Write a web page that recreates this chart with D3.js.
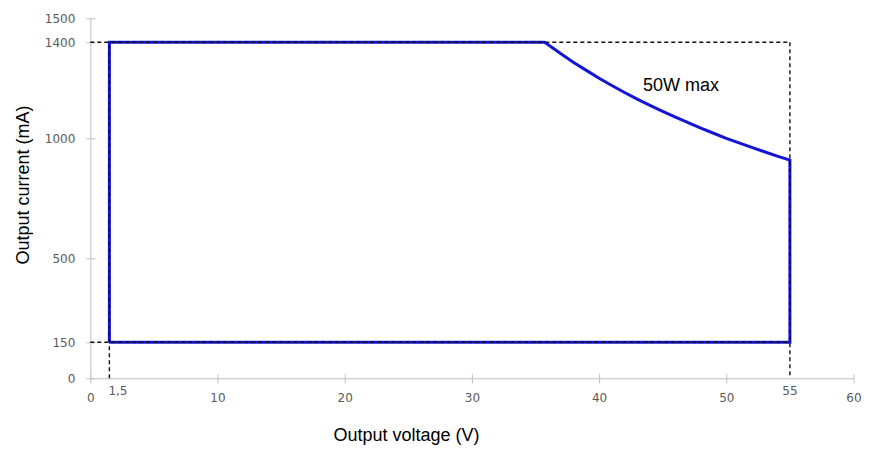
<!DOCTYPE html>
<html><head><meta charset="utf-8">
<script src="https://cdn.jsdelivr.net/npm/d3@7"></script>
<style>body{margin:0;background:#fff;}svg{display:block;}</style>
</head><body>
<svg id="c" width="878" height="449"></svg>
<script>
// ---- data ----
const xTicks = [0, 10, 20, 30, 40, 50, 60];
const yTicks = [0, 150, 500, 1000, 1400, 1500];
const markerX = [1.5, 55];
const markerXLabels = ["1,5", "55"];
const vMin = 1.5, vMax = 55, iMin = 150, iMax = 1400;
// constant-power (50 W) boundary
const curveV = [35.7, 36, 37, 38, 39, 40, 41, 42, 43, 44, 45, 46, 47, 48, 49, 50, 51, 52, 53, 54, 55];
const curveI = [1400, 1390, 1352, 1316, 1283, 1250, 1220, 1191, 1163, 1137, 1112, 1088, 1065, 1042, 1021, 1000, 981, 962, 944, 926, 909];
const annotation = "50W max";
const xTitle = "Output voltage (V)";
const yTitle = "Output current (mA)";

// ---- chart ----
const svg = d3.select("#c");
const x = d3.scaleLinear().domain([0, 60]).range([90.3, 853.5]);
const y = d3.scaleLinear().domain([0, 1500]).range([378.3, 18.3]);
const axisCol = "#bfbfbf", labCol = "#595959";

// axes
const gx = svg.append("g").attr("transform", `translate(0,${y(0)})`)
  .call(d3.axisBottom(x).tickValues(xTicks).tickSize(5).tickSizeOuter(0).tickPadding(10).tickFormat(d3.format("d")));
gx.select(".domain").attr("stroke", axisCol);
gx.selectAll(".tick line").attr("stroke", axisCol).attr("y1", -4).attr("y2", 5);
gx.selectAll(".tick text").attr("fill", labCol).style("font-family", "DejaVu Sans").style("font-size", "12px");

const gy = svg.append("g").attr("transform", `translate(${x(0)},0)`)
  .call(d3.axisLeft(y).tickValues(yTicks).tickSize(5).tickSizeOuter(0).tickPadding(10).tickFormat(d3.format("d")));
gy.select(".domain").attr("stroke", axisCol);
gy.selectAll(".tick line").attr("stroke", axisCol).attr("x1", -4).attr("x2", 5);
gy.selectAll(".tick text").attr("fill", labCol).style("font-family", "DejaVu Sans").style("font-size", "12px");

// marker labels for 1,5 and 55
svg.selectAll("text.mk").data(markerX).enter().append("text")
  .attr("x", (d, i) => i === 0 ? x(d) - 1 : x(d))
  .attr("y", y(0) + 17)
  .attr("text-anchor", (d, i) => i === 0 ? "start" : "middle")
  .attr("fill", labCol).style("font-family", "DejaVu Sans").style("font-size", "12px")
  .text((d, i) => markerXLabels[i]);

// operating area outline (blue)
const outline = [[vMin, iMin], [vMin, iMax]]
  .concat(curveV.map((v, i) => [v, curveI[i]]))
  .concat([[vMax, iMin], [vMin, iMin]]);
const line = d3.line().x(d => x(d[0])).y(d => y(d[1]));
svg.append("path").datum(outline).attr("d", line)
  .attr("fill", "none").attr("stroke", "#1414d4").attr("stroke-width", 3).attr("stroke-linejoin", "miter");

// dashed guide lines
const dashes = [
  [[0, iMax], [vMax, iMax]],
  [[vMax, iMax], [vMax, 0]],
  [[0, iMin], [vMax, iMin]],
  [[vMin, 0], [vMin, iMax]]
];
svg.selectAll("path.dash").data(dashes).enter().append("path")
  .attr("d", line).attr("fill", "none").attr("stroke", "#111")
  .attr("stroke-width", 1.4).attr("stroke-dasharray", "4,3");

// annotation
svg.append("text").attr("x", x(46.44)).attr("y", y(1197))
  .attr("text-anchor", "middle").style("font-family", "Liberation Sans, Arial").style("font-size", "18px")
  .attr("fill", "#000").text(annotation);

// axis titles
svg.append("text").attr("x", 406.5).attr("y", 441).attr("text-anchor", "middle")
  .style("font-family", "Liberation Sans, Arial").style("font-size", "18px").text(xTitle);
svg.append("text").attr("transform", "translate(29,185) rotate(-90)").attr("text-anchor", "middle")
  .style("font-family", "Liberation Sans, Arial").style("font-size", "18px").text(yTitle);
</script>
</body></html>
